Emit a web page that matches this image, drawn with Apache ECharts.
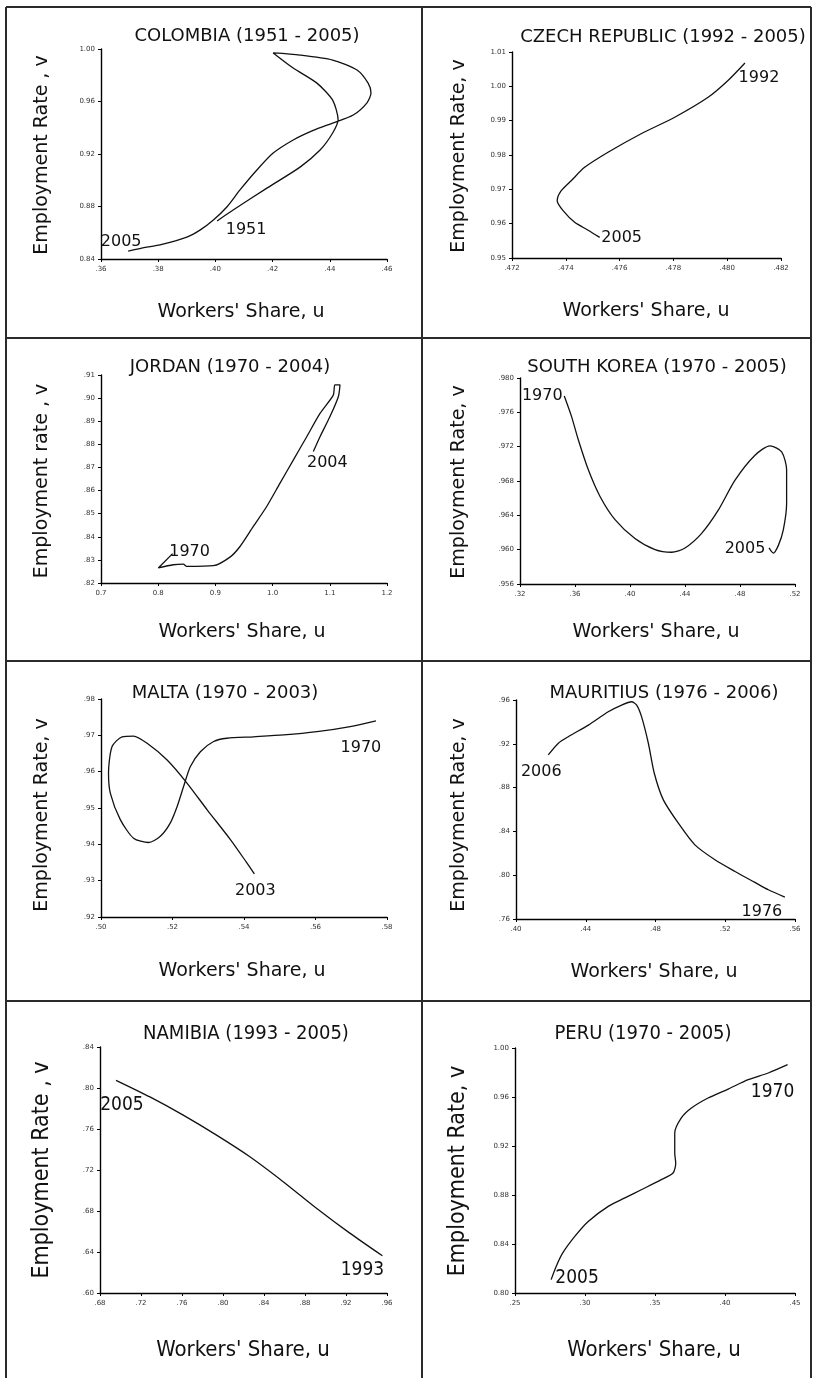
<!DOCTYPE html>
<html>
<head>
<meta charset="utf-8">
<script src="https://cdn.jsdelivr.net/npm/echarts@6/dist/echarts.min.js"></script>
<style>
  html, body { margin: 0; padding: 0; background: #fff; }
  #chart { width: 817px; height: 1378px; }
</style>
</head>
<body>
<div id="chart"></div>
<script>
// ---- Data: workers' share (u) against employment rate (v), first year first ----
const colombiaU = [.4006, .4062, .418, .4296, .4366, .441, .4429, .441, .4355, .4272, .4202, .4296, .441, .4495, .4534, .4544, .453, .4482, .441, .4342, .4272, .4202, .4145, .4086, .404, .3993, .3946, .39, .3806, .376, .3695];
const colombiaV = [.869, .8773, .894, .910, .923, .936, .946, .961, .974, .9855, .997, .9954, .9916, .984, .974, .9665, .959, .9497, .9436, .938, .9307, .9207, .9078, .8926, .8796, .8697, .862, .8567, .8507, .849, .846];

const czechU = [.48066, .48003, .47929, .47805, .4768, .47557, .4747, .4742, .47383, .47368, .4739, .47433, .47483, .47526];
const czechV = [1.0068, 1.0017, .9968, .991, .9862, .9808, .9764, .9725, .9696, .9667, .9638, .9604, .9581, .956];

const jordanU = [.8252, .8002, .8264, .8439, .8498, .8964, .9255, .943, .9663, .9897, 1.013, 1.0364, 1.0597, 1.0829, 1.1061, 1.109, 1.1178, 1.1149, 1.1003, 1.0829, 1.0712];
const jordanV = [.8327, .8265, .8279, .8282, .8272, .8275, .8312, .8358, .8445, .8531, .8632, .8733, .8833, .8934, .9013, .9057, .9057, .9006, .892, .8833, .8769];

const koreaU = [.3522, .3575, .3624, .3697, .3782, .3891, .4036, .4182, .4303, .44, .4521, .4642, .4764, .4909, .5018, .5103, .5139, .5139, .5115, .5079, .5042, .5011];
const koreaV = [.9779, .9755, .9728, .9693, .9662, .9635, .9613, .960, .9597, .9602, .9619, .9646, .9681, .971, .9721, .9714, .9693, .9654, .9623, .9605, .9596, .9602];

const maltaU = [.5769, .5697, .5604, .5511, .5427, .5352, .5315, .5278, .525, .5231, .5213, .5194, .5166, .5133, .5091, .5054, .5026, .5021, .5031, .5059, .5091, .5129, .5185, .5241, .5297, .5362, .5408, .5429];
const maltaV = [.974, .9724, .971, .9701, .9696, .9692, .9683, .9655, .9614, .9559, .9504, .9459, .9422, .9405, .9417, .9468, .9541, .9596, .9669, .9696, .9698, .9678, .9632, .9568, .9495, .9413, .9349, .9319];

const mauritiusU = [.5542, .5447, .537, .5256, .5141, .5026, .4931, .4845, .4793, .4759, .472, .4692, .4663, .4606, .4529, .4415, .43, .4243, .4185];
const mauritiusV = [.78, .7867, .7934, .8034, .8141, .8277, .8475, .8688, .8931, .9205, .9448, .9554, .9584, .9554, .9493, .9371, .9265, .9205, .9098];

const namibiaU = [.9555, .9237, .8912, .8587, .8262, .7937, .7612, .7287, .6956];
const namibiaV = [.6363, .6584, .6827, .7086, .7329, .754, .7735, .7913, .8075];

const peruU = [.4447, .4309, .4166, .4023, .3879, .376, .3688, .3641, .3641, .3648, .3629, .3545, .3402, .3285, .3166, .3023, .2927, .2841, .2794, .2758];
const peruV = [.9864, .9796, .9741, .9665, .9592, .951, .9429, .9306, .9143, .906, .898, .8925, .8843, .8776, .8707, .8584, .8462, .8327, .8217, .8109];

// ---- Titles, year labels at the two ends of each path ----
const titles = ['COLOMBIA (1951 - 2005)', 'CZECH REPUBLIC (1992 - 2005)', 'JORDAN (1970 - 2004)', 'SOUTH KOREA (1970 - 2005)',
                'MALTA (1970 - 2003)', 'MAURITIUS (1976 - 2006)', 'NAMIBIA (1993 - 2005)', 'PERU (1970 - 2005)'];
const endYears = [['1951', '2005'], ['1992', '2005'], ['1970', '2004'], ['1970', '2005'],
                  ['1970', '2003'], ['1976', '2006'], ['1993', '2005'], ['1970', '2005']];
const xNames = ["Workers' Share, u", "Workers' Share, u", "Workers' Share, u", "Workers' Share, u",
                "Workers' Share, u", "Workers' Share, u", "Workers' Share, u", "Workers' Share, u"];
const yNames = ['Employment Rate , v', 'Employment Rate, v', 'Employment rate , v', 'Employment Rate, v',
                'Employment Rate, v', 'Employment Rate, v', 'Employment Rate , v', 'Employment Rate, v'];

// ---- Tick labels ----
const colombiaXTicks = ['.36', '.38', '.40', '.42', '.44', '.46'];
const colombiaYTicks = ['0.84', '0.88', '0.92', '0.96', '1.00'];
const czechXTicks = ['.472', '.474', '.476', '.478', '.480', '.482'];
const czechYTicks = ['0.95', '0.96', '0.97', '0.98', '0.99', '1.00', '1.01'];
const jordanXTicks = ['0.7', '0.8', '0.9', '1.0', '1.1', '1.2'];
const jordanYTicks = ['.82', '.83', '.84', '.85', '.86', '.87', '.88', '.89', '.90', '.91'];
const koreaXTicks = ['.32', '.36', '.40', '.44', '.48', '.52'];
const koreaYTicks = ['.956', '.960', '.964', '.968', '.972', '.976', '.980'];
const maltaXTicks = ['.50', '.52', '.54', '.56', '.58'];
const maltaYTicks = ['.92', '.93', '.94', '.95', '.96', '.97', '.98'];
const mauritiusXTicks = ['.40', '.44', '.48', '.52', '.56'];
const mauritiusYTicks = ['.76', '.80', '.84', '.88', '.92', '.96'];
const namibiaXTicks = ['.68', '.72', '.76', '.80', '.84', '.88', '.92', '.96'];
const namibiaYTicks = ['.60', '.64', '.68', '.72', '.76', '.80', '.84'];
const peruXTicks = ['.25', '.30', '.35', '.40', '.45'];
const peruYTicks = ['0.80', '0.84', '0.88', '0.92', '0.96', '1.00'];

// ---- Panel layout ----
const SPACED = "'DejaVu Sans', sans-serif";
const NARROW = "'Liberation Sans Narrow', 'DejaVu Sans Condensed', 'Liberation Sans', sans-serif";
const INK = '#111';

// text sizes: [title, axis name x, axis name y, year label]
const SIZES_SPACED = [18, 19, 19, 16];
const SIZES_NARROW = [20, 22, 23, 19];

const panels = [
  { u: colombiaU,  v: colombiaV,  xt: colombiaXTicks,  yt: colombiaYTicks,  grid: [101, 49, 286, 210],  title: [247, 36],   xName: [241, 312],  yName: [42, 155],   lab: [[29, 9], [-7, -9]],   font: SPACED },
  { u: czechU,     v: czechV,     xt: czechXTicks,     yt: czechYTicks,     grid: [512, 52, 269, 206],  title: [663, 37],   xName: [646, 311],  yName: [459, 156],  lab: [[14, 15], [22, 0]],   font: SPACED },
  { u: jordanU,    v: jordanV,    xt: jordanXTicks,    yt: jordanYTicks,    grid: [101, 375, 286, 208], title: [230, 367],  xName: [242, 632],  yName: [42, 481],   lab: [[17, -2], [14, 11]],  font: SPACED },
  { u: koreaU,     v: koreaV,     xt: koreaXTicks,     yt: koreaYTicks,     grid: [520, 378, 275, 206], title: [657, 367],  xName: [656, 632],  yName: [459, 482],  lab: [[-22, 0], [-24, 1]],  font: SPACED },
  { u: maltaU,     v: maltaV,     xt: maltaXTicks,     yt: maltaYTicks,     grid: [101, 699, 286, 218], title: [225, 693],  xName: [242, 971],  yName: [42, 815],   lab: [[-15, 27], [1, 17]],  font: SPACED },
  { u: mauritiusU, v: mauritiusV, xt: mauritiusXTicks, yt: mauritiusYTicks, grid: [516, 700, 279, 219], title: [664, 693],  xName: [654, 972],  yName: [459, 815],  lab: [[-23, 15], [-7, 17]], font: SPACED },
  { u: namibiaU,   v: namibiaV,   xt: namibiaXTicks,   yt: namibiaYTicks,   grid: [100, 1047, 287, 246], title: [246, 1034], xName: [243, 1350], yName: [42, 1170],  lab: [[-20, 14], [6, 25]],  font: NARROW },
  { u: peruU,      v: peruV,      xt: peruXTicks,      yt: peruYTicks,      grid: [515, 1048, 280, 245], title: [643, 1034], xName: [654, 1350], yName: [458, 1171], lab: [[-15, 27], [26, -2]], font: NARROW }
];

function tickAxis(ticks, gridIndex, isX) {
  const vals = ticks.map(Number);
  const step = +(vals[1] - vals[0]).toFixed(6);
  return {
    gridIndex: gridIndex,
    type: 'value',
    min: vals[0],
    max: vals[vals.length - 1],
    interval: step,
    axisLine: { show: true, onZero: false, lineStyle: { color: '#000', width: 1.4 } },
    axisTick: { show: true, inside: false, length: 3, lineStyle: { color: '#000', width: 1 } },
    splitLine: { show: false },
    axisLabel: {
      show: true,
      showMinLabel: true,
      showMaxLabel: true,
      fontSize: 7,
      fontFamily: SPACED,
      color: '#333',
      margin: isX ? 7 : 6,
      formatter: function (val) {
        let best = 0;
        for (let i = 1; i < vals.length; i++) {
          if (Math.abs(vals[i] - val) < Math.abs(vals[best] - val)) best = i;
        }
        return ticks[best];
      }
    }
  };
}

const grids = [], xAxes = [], yAxes = [], series = [], graphics = [];

panels.forEach(function (p, i) {
  grids.push({ left: p.grid[0], top: p.grid[1], width: p.grid[2], height: p.grid[3], containLabel: false });
  xAxes.push(tickAxis(p.xt, i, true));
  yAxes.push(tickAxis(p.yt, i, false));

  const pts = p.u.map(function (u, k) { return [u, p.v[k]]; });
  const sz = p.font === NARROW ? SIZES_NARROW : SIZES_SPACED;

  series.push({
    type: 'line',
    xAxisIndex: i,
    yAxisIndex: i,
    data: pts,
    showSymbol: false,
    symbol: 'none',
    smooth: 0.25,
    silent: true,
    animation: false,
    lineStyle: { color: '#111', width: 1.3 }
  });

  // year labels at the first and last observation
  const ends = [pts[0], pts[pts.length - 1]];
  series.push({
    type: 'scatter',
    xAxisIndex: i,
    yAxisIndex: i,
    symbolSize: 0,
    silent: true,
    animation: false,
    itemStyle: { opacity: 1 },
    data: ends.map(function (pt, k) {
      return {
        value: pt,
        label: {
          show: true,
          position: 'inside',
          offset: p.lab[k],
          formatter: endYears[i][k],
          fontFamily: p.font,
          fontSize: sz[3],
          color: INK,
          opacity: 1
        }
      };
    })
  });

  graphics.push({
    type: 'text', x: p.title[0], y: p.title[1],
    style: { text: titles[i], font: sz[0] + 'px ' + p.font, fill: INK, textAlign: 'center', textVerticalAlign: 'middle' }
  });
  graphics.push({
    type: 'text', x: p.xName[0], y: p.xName[1],
    style: { text: xNames[i], font: sz[1] + 'px ' + p.font, fill: INK, textAlign: 'center', textVerticalAlign: 'middle' }
  });
  graphics.push({
    type: 'text', x: p.yName[0], y: p.yName[1], rotation: Math.PI / 2,
    style: { text: yNames[i], font: sz[2] + 'px ' + p.font, fill: INK, textAlign: 'center', textVerticalAlign: 'middle' }
  });
});

// frame and dividers between the panels
const frame = { stroke: '#2b2b2b', lineWidth: 2 };
[
  [6, 7, 811, 7], [6, 338, 811, 338], [6, 661, 811, 661], [6, 1001, 811, 1001],
  [6, 7, 6, 1378], [422, 7, 422, 1378], [811, 7, 811, 1378]
].forEach(function (s) {
  graphics.push({ type: 'line', shape: { x1: s[0], y1: s[1], x2: s[2], y2: s[3] }, style: frame, silent: true });
});

const chart = echarts.init(document.getElementById('chart'), null, { renderer: 'canvas' });
chart.setOption({
  animation: false,
  backgroundColor: '#fff',
  grid: grids,
  xAxis: xAxes,
  yAxis: yAxes,
  series: series,
  graphic: graphics
});
</script>
</body>
</html>
